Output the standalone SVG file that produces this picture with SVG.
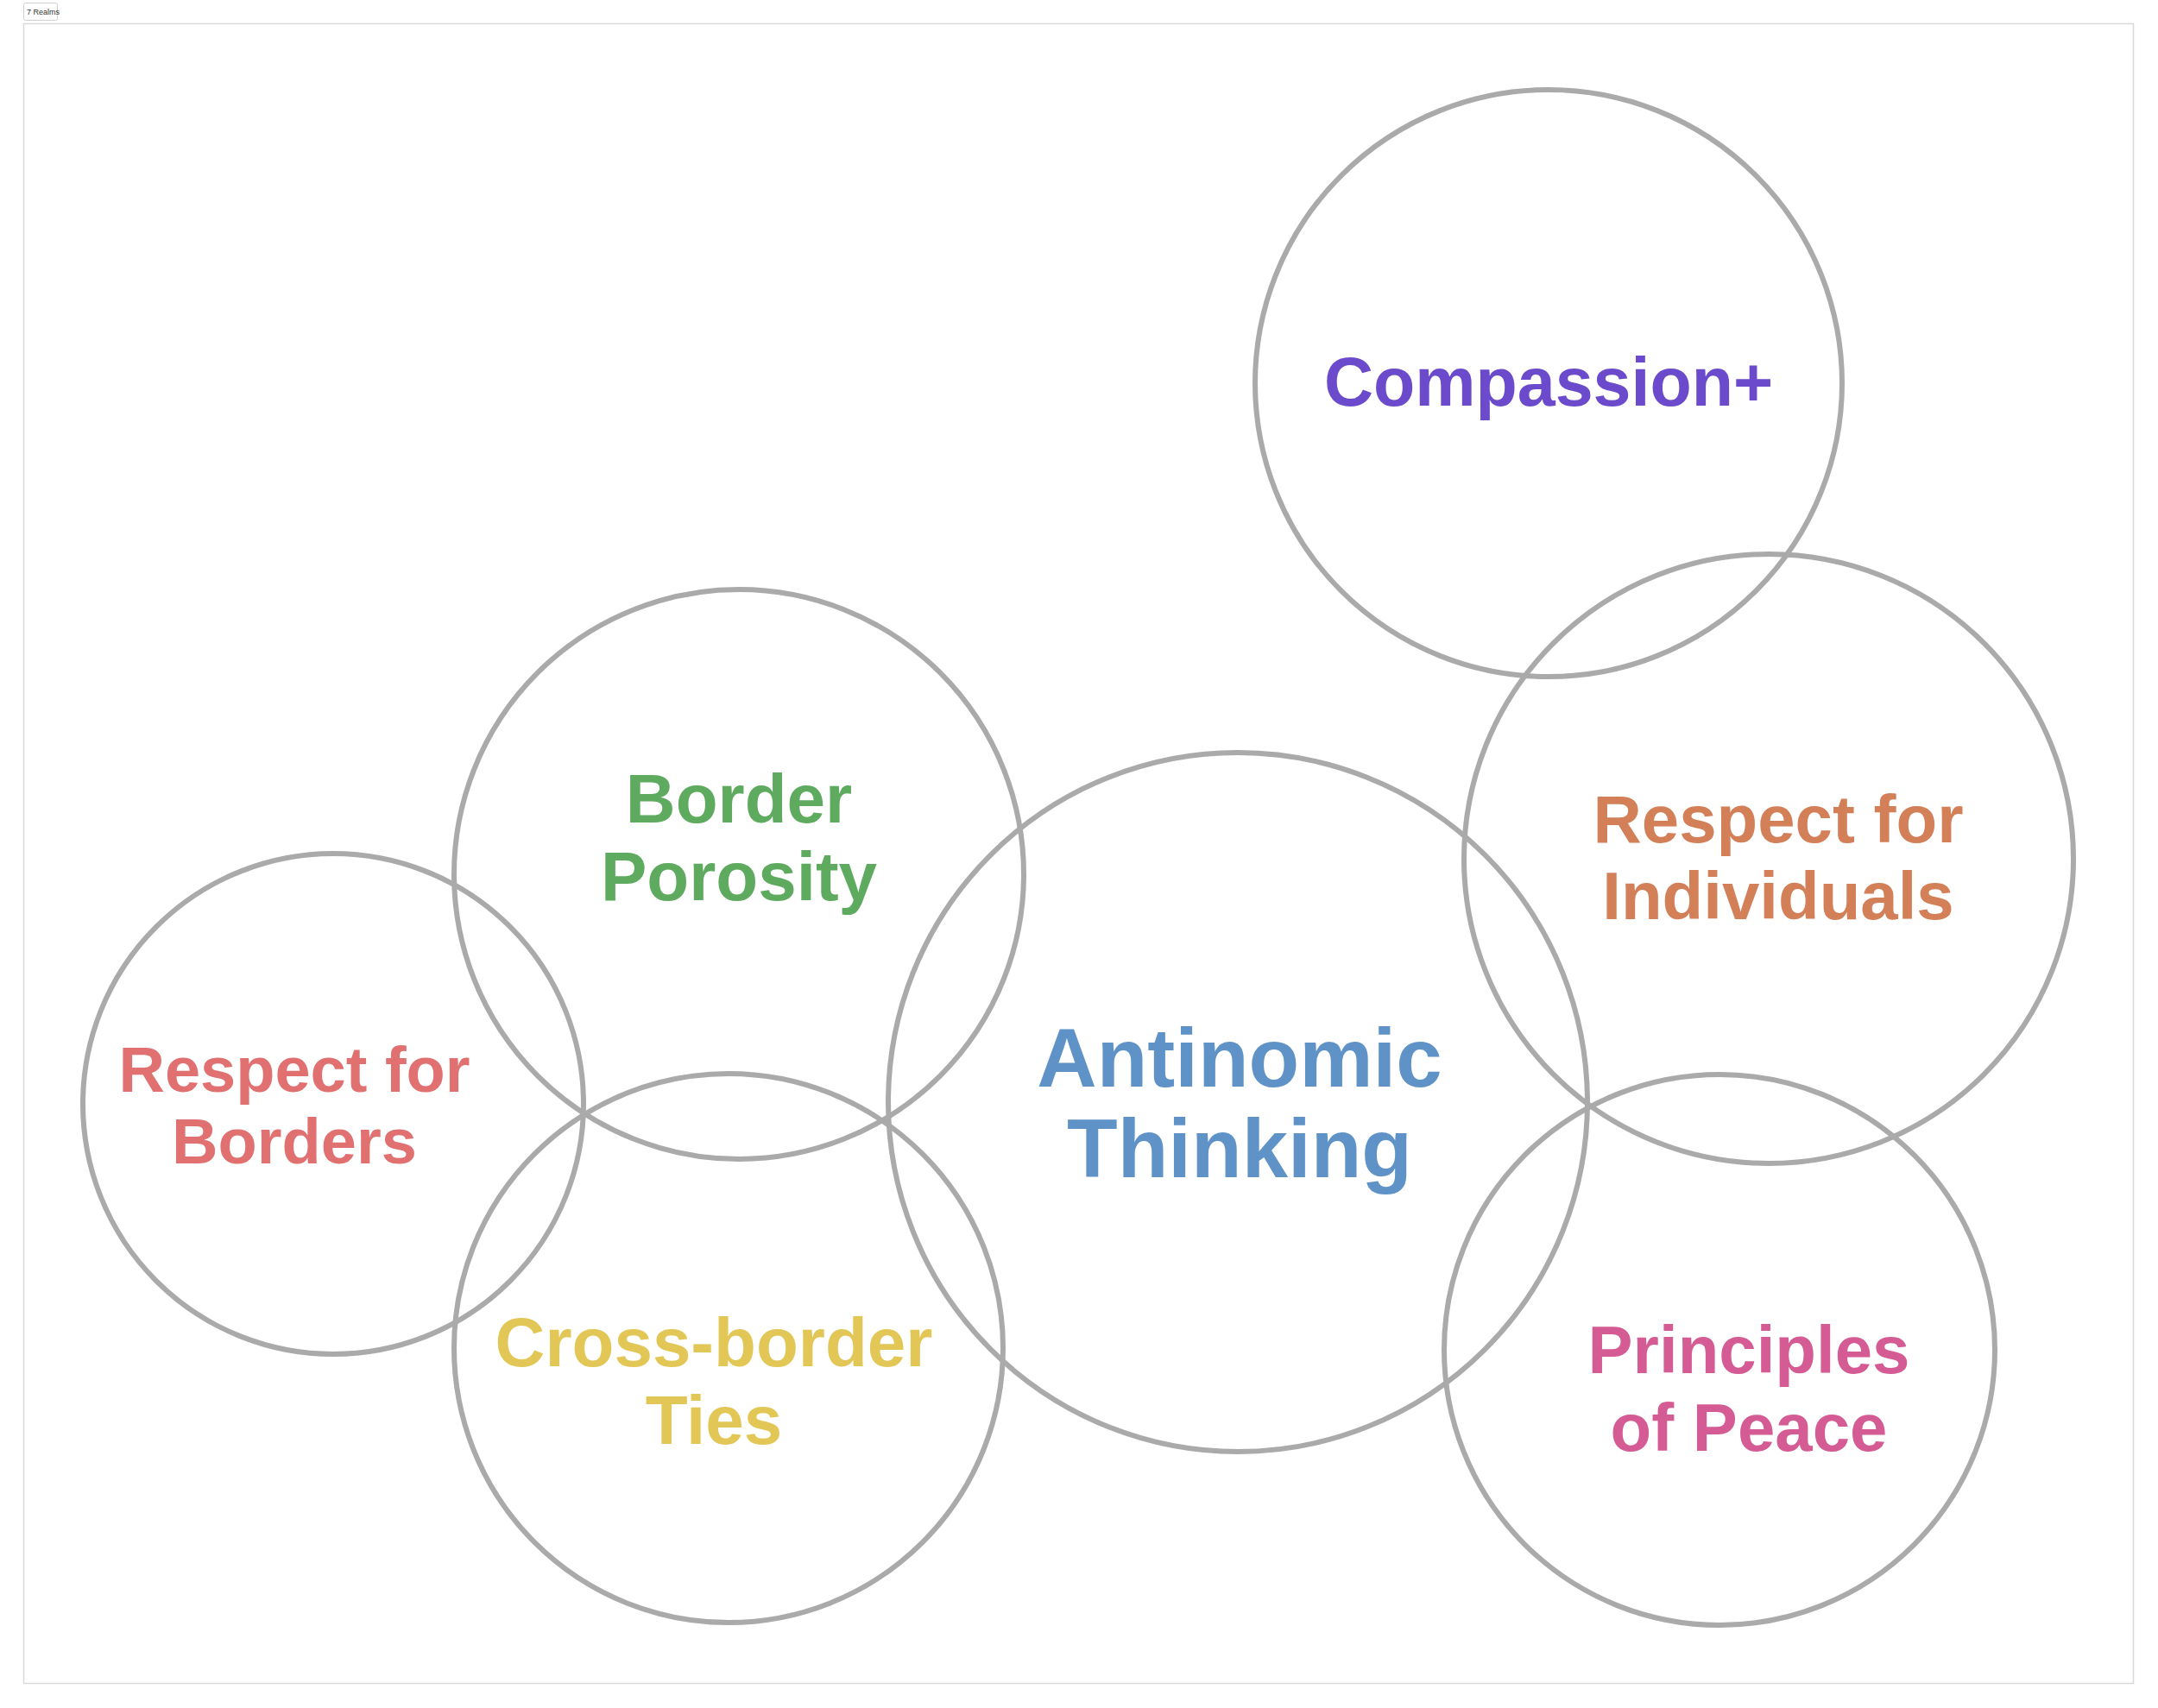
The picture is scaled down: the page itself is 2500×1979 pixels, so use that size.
<svg xmlns="http://www.w3.org/2000/svg" width="2500" height="1979" viewBox="0 0 2500 1979">
<style>
.ring{fill:none;stroke:#aaaaaa;stroke-width:6}
.lbl{font-family:"Liberation Sans",Arial,sans-serif;font-weight:bold;text-anchor:middle}
</style>
<rect x="0" y="0" width="2500" height="1979" fill="#ffffff"/>
<g id="frame">
<rect x="27.5" y="27.5" width="2444" height="1923" fill="none" stroke="#d9d9d9" stroke-width="1.5"/>
<rect x="27.5" y="3.5" width="39" height="20" rx="2" fill="#ffffff" stroke="#d0d0d0" stroke-width="1"/>
<text x="31" y="17" font-family="Liberation Sans,Arial,sans-serif" font-size="9" fill="#333333">7 Realms</text>
</g>
<g id="node-compassion">
<circle class="ring" cx="1794" cy="444" r="340"/>
<text class="lbl" x="1794" y="470" font-size="79" fill="#6b4bcb">Compassion+</text>
</g>
<g id="node-individuals">
<circle class="ring" cx="2049" cy="995" r="353"/>
<text class="lbl" font-size="78" fill="#d37f58"><tspan x="2060" y="976">Respect for</tspan><tspan x="2060" y="1065">Individuals</tspan></text>
</g>
<g id="node-antinomic">
<circle class="ring" cx="1434" cy="1277" r="405"/>
<text class="lbl" font-size="96" fill="#5f93c8"><tspan x="1436" y="1259">Antinomic</tspan><tspan x="1436" y="1364">Thinking</tspan></text>
</g>
<g id="node-porosity">
<circle class="ring" cx="856" cy="1013" r="330"/>
<text class="lbl" font-size="80" fill="#5eaa5f"><tspan x="856" y="953">Border</tspan><tspan x="856" y="1043">Porosity</tspan></text>
</g>
<g id="node-borders">
<circle class="ring" cx="386" cy="1279" r="290"/>
<text class="lbl" font-size="74" fill="#e17171"><tspan x="341" y="1265">Respect for</tspan><tspan x="341" y="1348">Borders</tspan></text>
</g>
<g id="node-ties">
<circle class="ring" cx="844" cy="1562" r="318"/>
<text class="lbl" font-size="80" fill="#e2c756"><tspan x="827" y="1583">Cross-border</tspan><tspan x="827" y="1673">Ties</tspan></text>
</g>
<g id="node-peace">
<circle class="ring" cx="1992" cy="1564" r="319"/>
<text class="lbl" font-size="78" fill="#d45b93"><tspan x="2026" y="1591">Principles</tspan><tspan x="2026" y="1681">of Peace</tspan></text>
</g>
<g id="connectors"></g>
</svg>
